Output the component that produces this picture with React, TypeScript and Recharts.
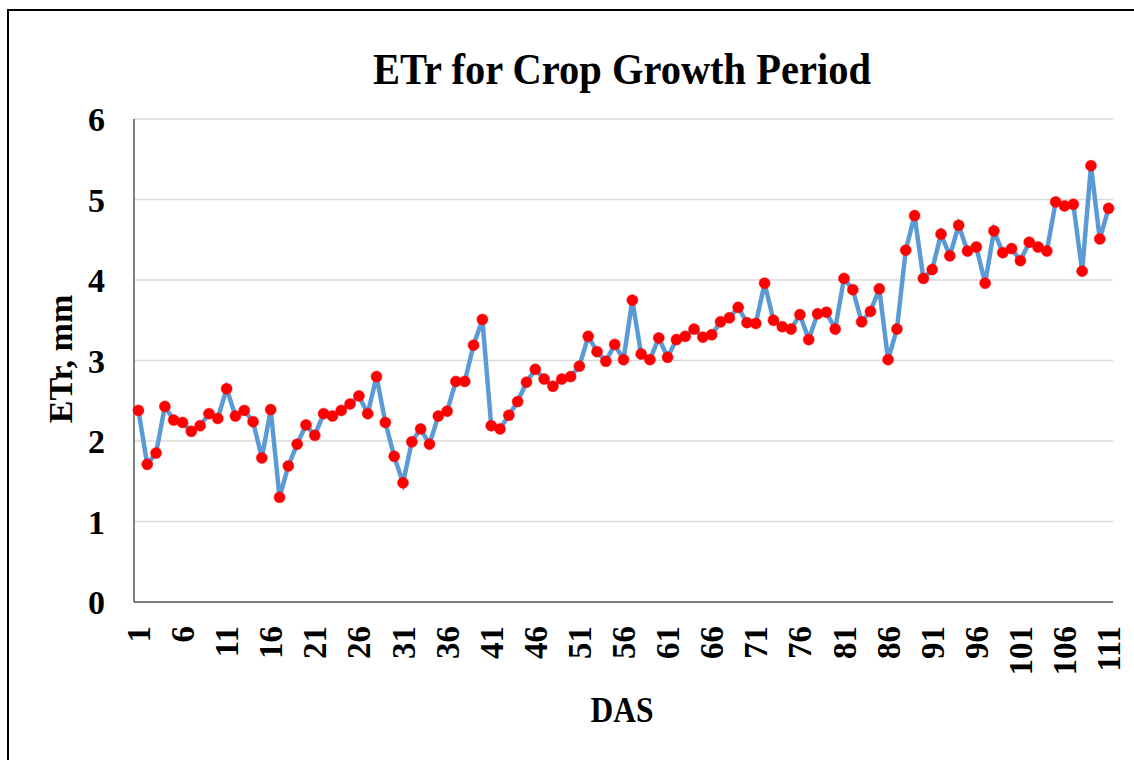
import React from "react";
import { LineChart, Line, XAxis, YAxis, CartesianGrid } from "recharts";

// days after sowing
const days = [
  1, 2, 3, 4, 5, 6, 7, 8, 9, 10, 11, 12, 13, 14, 15, 16, 17, 18, 19, 20,
  21, 22, 23, 24, 25, 26, 27, 28, 29, 30, 31, 32, 33, 34, 35, 36, 37, 38, 39, 40,
  41, 42, 43, 44, 45, 46, 47, 48, 49, 50, 51, 52, 53, 54, 55, 56, 57, 58, 59, 60,
  61, 62, 63, 64, 65, 66, 67, 68, 69, 70, 71, 72, 73, 74, 75, 76, 77, 78, 79, 80,
  81, 82, 83, 84, 85, 86, 87, 88, 89, 90, 91, 92, 93, 94, 95, 96, 97, 98, 99, 100,
  101, 102, 103, 104, 105, 106, 107, 108, 109, 110, 111,
];

// ETr, mm
const etr = [
  2.38, 1.71, 1.85, 2.43, 2.26, 2.23, 2.12, 2.19, 2.34, 2.28,
  2.65, 2.31, 2.38, 2.24, 1.79, 2.39, 1.3, 1.69, 1.96, 2.2,
  2.07, 2.34, 2.31, 2.38, 2.46, 2.56, 2.34, 2.8, 2.23, 1.81,
  1.48, 1.99, 2.15, 1.96, 2.31, 2.37, 2.74, 2.74, 3.19, 3.51,
  2.19, 2.15, 2.32, 2.49, 2.73, 2.89, 2.77, 2.68, 2.77, 2.8,
  2.93, 3.3, 3.11, 2.99, 3.2, 3.01, 3.75, 3.08, 3.01, 3.28,
  3.04, 3.26, 3.3, 3.39, 3.29, 3.32, 3.48, 3.53, 3.66, 3.47,
  3.46, 3.96, 3.5, 3.42, 3.39, 3.57, 3.26, 3.58, 3.6, 3.39,
  4.02, 3.88, 3.48, 3.61, 3.89, 3.01, 3.39, 4.37, 4.8, 4.02,
  4.13, 4.57, 4.3, 4.68, 4.36, 4.41, 3.96, 4.61, 4.34, 4.39,
  4.24, 4.47, 4.41, 4.36, 4.97, 4.92, 4.94, 4.11, 5.42, 4.51,
  4.89,
];

const yTicks = [0, 1, 2, 3, 4, 5, 6];

const data = days.map((d, i) => ({ day: d, etr: etr[i] }));

const FONT = '"Liberation Serif", "Times New Roman", serif';

const DayTick = (props: any) => {
  const { x, y, payload } = props;
  return (
    <g transform={`translate(${x},${y})`}>
      <text
        x={-24}
        y={0}
        dy="0.35em"
        transform="rotate(-90)"
        textAnchor="end"
        fontFamily={FONT}
        fontWeight="bold"
        fontSize={33}
        fill="#000"
      >
        {payload.value}
      </text>
    </g>
  );
};

export default function App() {
  return (
    <div
      style={{
        position: "absolute",
        left: 0,
        top: 0,
        width: 1134,
        height: 760,
        overflow: "hidden",
        background: "#fff",
      }}
    >
      <LineChart
        width={1134}
        height={760}
        data={data}
        margin={{ top: 119, right: 21, bottom: 0, left: 0 }}
      >
        <CartesianGrid vertical={false} stroke="#d9d9d9" strokeWidth={1.5} />
        <XAxis
          dataKey="day"
          interval={4}
          height={158}
          padding={{ left: 4.4, right: 4.4 }}
          tickLine={false}
          tickSize={0}
          tickMargin={0}
          tick={<DayTick />}
          axisLine={{ stroke: "#595959", strokeWidth: 1.5 }}
        />
        <XAxis
          xAxisId="top"
          dataKey="day"
          orientation="top"
          height={0}
          tick={false}
          tickLine={false}
          axisLine={{ stroke: "#595959", strokeWidth: 1.5 }}
        />
        <YAxis
          domain={[0, 6]}
          ticks={yTicks}
          width={134}
          tickLine={false}
          tickSize={0}
          tickMargin={29}
          axisLine={{ stroke: "#595959", strokeWidth: 1.5 }}
          tick={{ fontFamily: FONT, fontWeight: "bold", fontSize: 34, fill: "#000" }}
        />
        <YAxis
          yAxisId="right"
          orientation="right"
          domain={[0, 6]}
          width={0}
          tick={false}
          tickLine={false}
          axisLine={{ stroke: "#595959", strokeWidth: 1.5 }}
        />
        <Line
          type="linear"
          dataKey="etr"
          stroke="#5b9bd5"
          strokeWidth={4.5}
          dot={{ r: 5.5, fill: "#ff0000", stroke: "#ff0000", strokeWidth: 0.5 }}
          isAnimationActive={false}
        />
        <g transform="translate(622,84) scale(0.9,1)">
          <text
            x={0}
            y={0}
            textAnchor="middle"
            fontFamily={FONT}
            fontWeight="bold"
            fontSize={45}
            fill="#000"
          >
            ETr for Crop Growth Period
          </text>
        </g>
        <g transform="translate(622,722) scale(0.9,1)">
          <text
            x={0}
            y={0}
            textAnchor="middle"
            fontFamily={FONT}
            fontWeight="bold"
            fontSize={35}
            fill="#000"
          >
            DAS
          </text>
        </g>
        <text
          x={72}
          y={359}
          transform="rotate(-90, 72, 359)"
          textAnchor="middle"
          fontFamily={FONT}
          fontWeight="bold"
          fontSize={34}
          fill="#000"
        >
          ETr, mm
        </text>
      </LineChart>
      <div
        style={{
          position: "absolute",
          left: 7,
          top: 9,
          width: 2000,
          height: 2000,
          border: "2px solid #000",
          pointerEvents: "none",
        }}
      />
    </div>
  );
}
